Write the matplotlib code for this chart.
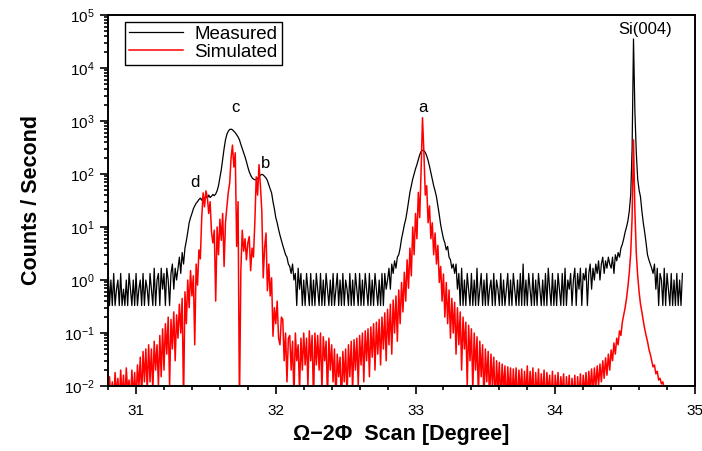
import numpy as np
import matplotlib
matplotlib.use("Agg")
import matplotlib.pyplot as plt
from matplotlib.ticker import MultipleLocator, LogLocator, NullFormatter

plt.rcParams['font.family'] = ['Liberation Sans', 'DejaVu Sans']

# scan grid (degrees)
scan_start = 30.80
scan_step = 0.01

# measured counts/s, one row per 0.1 degree, from 30.80 to 34.91
measured = [
    1.67, 0.33, 1.0, 0.33, 1.33, 0.33, 0.67, 1.0, 0.33, 1.33,
    0.33, 0.67, 0.33, 1.0, 0.33, 1.33, 0.67, 0.33, 1.0, 0.33,
    1.33, 0.33, 0.67, 1.0, 0.33, 1.33, 0.33, 1.0, 0.67, 0.33,
    1.33, 0.67, 0.33, 1.67, 0.33, 1.0, 1.33, 0.33, 1.67, 0.67,
    1.33, 0.33, 1.67, 1.0, 0.33, 1.33, 2.0, 0.67, 1.67, 1.0,
    1.67, 2.7, 1.33, 3.3, 2.0, 4.0, 5.5, 8.0, 12, 15,
    18, 22, 25, 28, 30, 33, 35, 32, 37, 34,
    38, 35, 40, 36, 38, 41, 39, 42, 48, 60,
    85, 120, 190, 300, 440, 560, 640, 690, 700, 680,
    640, 600, 550, 500, 440, 360, 300, 250, 210, 170,
    135, 110, 95, 85, 80, 78, 77, 82, 90, 95,
    98, 96, 90, 84, 75, 62, 52, 44, 30, 22,
    15, 12, 9, 7, 5.6, 4.5, 3.7, 3.0, 2.7, 2.0,
    1.8, 1.33, 2.0, 1.0, 1.33, 0.33, 1.67, 0.67, 1.33, 0.33,
    1.0, 0.33, 1.33, 0.67, 0.33, 1.33, 0.33, 1.0, 0.33, 1.33,
    0.67, 0.33, 1.33, 0.33, 1.0, 0.33, 1.33, 0.67, 0.33, 1.0,
    0.33, 1.33, 0.33, 0.67, 1.33, 0.33, 1.0, 0.33, 1.33, 0.33,
    1.0, 0.67, 0.33, 1.33, 0.33, 1.0, 0.33, 1.33, 0.67, 0.33,
    1.33, 0.33, 1.0, 0.33, 1.33, 0.67, 0.33, 1.33, 0.33, 1.0,
    0.33, 1.33, 0.67, 0.33, 1.0, 0.33, 1.33, 0.33, 1.33, 0.67,
    1.0, 1.67, 0.67, 2.0, 1.33, 2.3, 1.67, 2.7, 3.0, 4.0,
    6, 8, 11, 14, 20, 30, 45, 60, 80, 100,
    125, 150, 185, 230, 265, 280, 275, 255, 220, 180,
    140, 105, 80, 60, 48, 37, 25, 17, 11, 8,
    6, 5, 3.7, 4.3, 2.7, 2.4, 1.67, 2.0, 1.33, 2.0,
    0.67, 1.33, 0.33, 1.67, 0.33, 1.0, 0.33, 1.33, 0.67, 0.33,
    1.33, 0.33, 1.0, 0.33, 1.67, 0.33, 0.67, 1.33, 0.33, 1.0,
    0.33, 1.33, 0.33, 0.67, 1.0, 0.33, 1.33, 0.33, 1.0, 0.67,
    0.33, 1.33, 0.33, 1.0, 0.33, 0.67, 1.33, 0.33, 1.0, 0.33,
    1.33, 0.67, 0.33, 1.0, 0.33, 1.33, 0.33, 2.0, 0.33, 1.0,
    0.33, 1.33, 0.67, 0.33, 1.33, 0.33, 1.0, 0.33, 1.33, 0.67,
    0.33, 1.0, 0.33, 1.33, 0.33, 1.67, 0.67, 0.33, 1.33, 0.33,
    1.0, 0.33, 1.33, 0.67, 0.33, 1.33, 0.33, 1.67, 0.33, 1.0,
    0.67, 1.33, 0.33, 1.0, 1.67, 0.33, 1.33, 0.67, 1.67, 0.33,
    1.33, 1.0, 1.67, 0.33, 1.33, 2.0, 0.67, 1.67, 1.0, 2.0,
    1.33, 2.3, 1.0, 2.0, 2.7, 1.33, 2.3, 1.67, 2.7, 2.0,
    1.67, 2.7, 1.33, 3.0, 2.3, 3.3, 2.7, 4.0, 4.7, 6.0,
    8, 10, 13, 20, 40, 300, 35000, 1500, 250, 80,
    50, 37, 20, 12, 8, 5, 3, 2.4, 2.0, 1.67,
    1.33, 2.0, 0.67, 1.67, 0.33, 1.33, 1.0, 0.33, 1.67, 0.33,
    1.33, 0.67, 0.33, 1.33, 0.33, 1.0, 0.33, 1.33, 0.33, 1.0,
    0.33, 1.33,
]

# simulated counts/s, one row per 0.1 degree, from 30.80 to 34.79
simulated = [
    0.005, 0.015, 0.006, 0.012, 0.005, 0.018, 0.007, 0.014, 0.005, 0.02,
    0.006, 0.016, 0.005, 0.022, 0.008, 0.013, 0.005, 0.02, 0.006, 0.018,
    0.005, 0.025, 0.009, 0.035, 0.006, 0.045, 0.012, 0.05, 0.008, 0.06,
    0.012, 0.05, 0.008, 0.07, 0.02, 0.06, 0.01, 0.09, 0.015, 0.12,
    0.02, 0.15, 0.04, 0.2, 0.01, 0.18, 0.05, 0.25, 0.03, 0.22,
    0.08, 0.35, 0.1, 0.45, 0.005, 0.6, 0.15, 1.0, 0.3, 1.5,
    0.5, 1.2, 0.06, 2.0, 0.8, 3.7, 2.5, 15, 44, 24,
    48, 37, 18, 30, 8, 5, 8.7, 0.4, 10, 3,
    14, 5.6, 18, 1.8, 12, 24, 45, 67, 200, 350,
    135, 250, 4.3, 30, 0.004, 1.5, 8.7, 3.5, 6, 2.4,
    5, 6.6, 1.5, 4, 2.7, 12, 88, 40, 150, 60,
    20, 1.1, 4, 7.7, 0.63, 2, 0.5, 1.1, 0.087, 0.3,
    0.15, 0.4, 0.08, 0.06, 0.2, 0.18, 0.03, 0.1, 0.012, 0.08,
    0.09, 0.02, 0.07, 0.006, 0.1, 0.03, 0.06, 0.008, 0.08, 0.02,
    0.1, 0.025, 0.08, 0.01, 0.11, 0.03, 0.09, 0.005, 0.1, 0.025,
    0.09, 0.02, 0.1, 0.008, 0.085, 0.03, 0.07, 0.006, 0.08, 0.02,
    0.06, 0.012, 0.05, 0.005, 0.04, 0.015, 0.035, 0.004, 0.045, 0.012,
    0.05, 0.006, 0.06, 0.015, 0.07, 0.008, 0.075, 0.02, 0.08, 0.01,
    0.09, 0.025, 0.1, 0.012, 0.11, 0.03, 0.12, 0.015, 0.13, 0.035,
    0.15, 0.02, 0.16, 0.04, 0.18, 0.025, 0.2, 0.05, 0.24, 0.03,
    0.28, 0.06, 0.35, 0.04, 0.42, 0.1, 0.5, 0.07, 0.65, 0.15,
    0.9, 0.25, 1.4, 0.4, 2.4, 0.7, 4.0, 1.2, 10, 3,
    18, 6, 45, 15, 120, 1150, 250, 40, 60, 12,
    25, 6, 12, 3, 7.7, 2, 4.5, 0.9, 1.8, 0.4,
    1.3, 0.2, 0.9, 0.15, 0.65, 0.08, 0.45, 0.1, 0.38, 0.04,
    0.3, 0.06, 0.25, 0.02, 0.2, 0.05, 0.16, 0.01, 0.14, 0.03,
    0.12, 0.008, 0.1, 0.02, 0.085, 0.006, 0.07, 0.015, 0.06, 0.005,
    0.05, 0.012, 0.045, 0.005, 0.04, 0.01, 0.035, 0.004, 0.03, 0.008,
    0.028, 0.005, 0.026, 0.008, 0.024, 0.004, 0.023, 0.007, 0.022, 0.005,
    0.021, 0.006, 0.022, 0.004, 0.02, 0.007, 0.021, 0.005, 0.019, 0.006,
    0.024, 0.005, 0.019, 0.007, 0.022, 0.004, 0.018, 0.006, 0.021, 0.005,
    0.017, 0.006, 0.02, 0.004, 0.018, 0.007, 0.016, 0.005, 0.019, 0.004,
    0.016, 0.006, 0.018, 0.005, 0.015, 0.007, 0.017, 0.004, 0.015, 0.006,
    0.016, 0.005, 0.014, 0.006, 0.016, 0.004, 0.015, 0.006, 0.017, 0.005,
    0.016, 0.007, 0.018, 0.006, 0.019, 0.008, 0.021, 0.007, 0.022, 0.009,
    0.024, 0.01, 0.026, 0.012, 0.03, 0.014, 0.034, 0.016, 0.04, 0.02,
    0.048, 0.03, 0.065, 0.04, 0.08, 0.06, 0.11, 0.09, 0.16, 0.22,
    0.3, 0.45, 0.75, 1.4, 3.2, 15, 440, 20, 3.2, 1.2,
    0.6, 0.35, 0.25, 0.17, 0.12, 0.09, 0.07, 0.05, 0.04, 0.03,
    0.023, 0.025, 0.017, 0.019, 0.013, 0.014, 0.011, 0.012, 0.009, 0.008,
]

# peak labels: text, x (deg), y (counts/s)
peak_names = ['d', 'c', 'b', 'a', 'Si(004)']
peak_x = [31.42, 31.71, 31.93, 33.05, 34.64]
peak_y = [68, 1800, 160, 1800, 52000]

x_meas = scan_start + scan_step * np.arange(len(measured))
x_sim = scan_start + scan_step * np.arange(len(simulated))

fig = plt.figure(figsize=(7.02, 4.51), dpi=100)
ax = fig.add_axes([0.154, 0.144, 0.836, 0.823])

ax.plot(x_meas, measured, color='black', lw=0.9, label='Measured')
ax.plot(x_sim, simulated, color='red', lw=1.1, label='Simulated')

ax.set_yscale('log')
ax.set_xlim(30.8, 35.0)
ax.set_ylim(1e-2, 1e5)

ax.xaxis.set_major_locator(MultipleLocator(1))
ax.xaxis.set_minor_locator(MultipleLocator(0.2))
ax.yaxis.set_major_locator(LogLocator(base=10, numticks=10))
ax.yaxis.set_minor_locator(LogLocator(base=10, subs=np.arange(2, 10), numticks=10))
ax.yaxis.set_minor_formatter(NullFormatter())
ax.tick_params(which='both', direction='out', top=False, right=False, width=1.2)
ax.tick_params(which='major', length=6, labelsize=11)
ax.tick_params(axis='x', which='major', pad=7)
ax.tick_params(which='minor', length=3)
for s in ax.spines.values():
    s.set_linewidth(1.4)

for name, px, py in zip(peak_names, peak_x, peak_y):
    ax.text(px, py, name, ha='center', va='center', fontsize=12)

ax.set_xlabel('\u03a9\u22122\u03a6  Scan [Degree]', fontsize=15.5, fontweight='bold', labelpad=4)
ax.set_ylabel('Counts / Second', fontsize=15.5, fontweight='bold', labelpad=16)

leg = ax.legend(loc='upper left', bbox_to_anchor=(0.029, 0.981), borderaxespad=0,
                fontsize=13.5, handlelength=2.9, fancybox=False, framealpha=1,
                edgecolor='black', borderpad=0.2, labelspacing=0.05, handletextpad=0.6)
leg.get_frame().set_linewidth(1.0)

fig.savefig('out.png', dpi=100)
